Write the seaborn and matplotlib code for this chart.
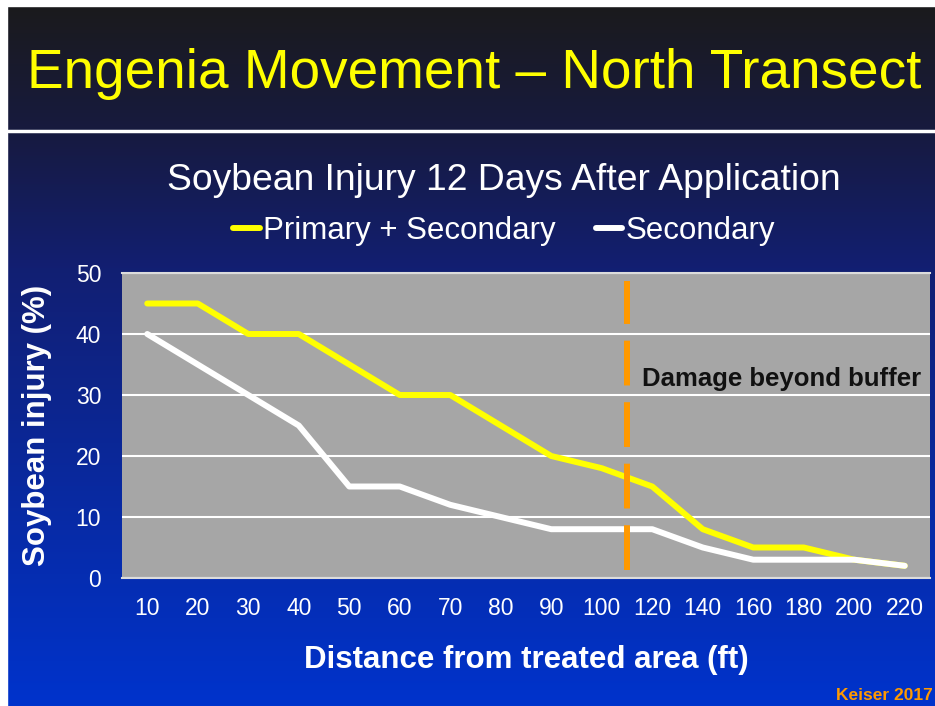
import numpy as np
import pandas as pd
import matplotlib
matplotlib.use("Agg")
import matplotlib.pyplot as plt
from matplotlib.colors import LinearSegmentedColormap
import seaborn as sns

# ===============================
# DATA
# ===============================
distances = ["10", "20", "30", "40", "50", "60", "70", "80", "90", "100",
             "120", "140", "160", "180", "200", "220"]
primary_secondary = [45, 45, 40, 40, 35, 30, 30, 25, 20, 18, 15, 8, 5, 5, 3, 2]
secondary = [40, 35, 30, 25, 15, 15, 12, 10, 8, 8, 8, 5, 3, 3, 3, 2]
series_names = ["Primary + Secondary", "Secondary"]
buffer_edge = 9.5  # between 100 and 120 ft

df = pd.DataFrame({
    "distance": distances * 2,
    "injury": primary_secondary + secondary,
    "series": [series_names[0]] * len(distances) + [series_names[1]] * len(distances),
})

# ===============================
# STYLE
# ===============================
sns.set_style("white")
plt.rcParams["font.family"] = ["Liberation Sans", "DejaVu Sans"]

fig = plt.figure(figsize=(9.35, 7.06), dpi=100)

# background gradient
bg = fig.add_axes([0, 0, 1, 1], zorder=-10)
cmap = LinearSegmentedColormap.from_list(
    "slide", [(0.0, "#1b1b1b"), (0.18, "#171a3e"), (0.38, "#121f72"), (1.0, "#0033cc")])
grad = np.linspace(0, 1, 256).reshape(-1, 1)
bg.imshow(grad, aspect="auto", cmap=cmap, extent=[0, 1, 0, 1], origin="upper")
bg.set_xlim(0, 1)
bg.set_ylim(0, 1)
bg.axis("off")
# white slide edge and separator
bg.axvspan(0, 7 / 935, color="white")
bg.axhspan(1 - 6 / 706, 1, color="white")
bg.plot([8 / 935, 1], [1 - 131 / 706] * 2, color="white", lw=2.5)

# ===============================
# TEXTS
# ===============================
fig.text(0.507, 1 - 74 / 706, "Engenia Movement \u2013 North Transect",
         color="#ffff00", fontsize=39.5, ha="center", va="center")
fig.text(0.539, 1 - 181 / 706, "Soybean Injury 12 Days After Application",
         color="white", fontsize=26.8, ha="center", va="center")
fig.text(933 / 935, 1 - 696 / 706, "Keiser 2017", color="#ff9900", fontsize=12.5,
         fontweight="bold", ha="right", va="center")

# ===============================
# PLOT
# ===============================
ax = fig.add_axes([122 / 935, 1 - 578 / 706, 808 / 935, 305 / 706])
ax.set_facecolor("#a6a6a6")

sns.lineplot(data=df, x="distance", y="injury", hue="series",
             palette={series_names[0]: "#ffff00", series_names[1]: "white"},
             linewidth=4.3, ax=ax, sort=False)

ax.axvline(buffer_edge, ymin=0.025, ymax=0.975, color="#ff9900", lw=4.3,
           dashes=(7.5, 2.8), zorder=3)
ax.text(9.8, 32.6, "Damage beyond buffer", color="#111111", fontsize=18.5,
        fontweight="bold", va="center", ha="left")

ax.set_xlim(-0.5, len(distances) - 0.5)
ax.set_ylim(0, 50)
ax.set_yticks(range(0, 51, 10))
ax.yaxis.grid(True, color="white", lw=1.5)
ax.set_axisbelow(True)
for side in ["left", "right"]:
    ax.spines[side].set_visible(False)
for side in ["top", "bottom"]:
    ax.spines[side].set_color("#dcdcdc")
    ax.spines[side].set_linewidth(1.5)

ax.tick_params(axis="both", length=0, colors="white", labelsize=16.5)
ax.tick_params(axis="x", pad=14)
ax.tick_params(axis="y", pad=15)

ax.set_xlabel("Distance from treated area (ft)", color="white", fontsize=22.5,
              fontweight="bold", labelpad=18)
ax.set_ylabel("Soybean injury (%)", color="white", fontsize=22.5,
              fontweight="bold", labelpad=17)

leg = ax.legend(loc="center", bbox_to_anchor=(504 / 935, 1 - 231 / 706),
                bbox_transform=fig.transFigure, ncol=2, frameon=False,
                fontsize=22.5, handlelength=0.85, handletextpad=0.1,
                columnspacing=1.3)
for t in leg.get_texts():
    t.set_color("white")
for h in leg.get_lines():
    h.set_linewidth(4.3)

fig.savefig("out.png", dpi=100)
